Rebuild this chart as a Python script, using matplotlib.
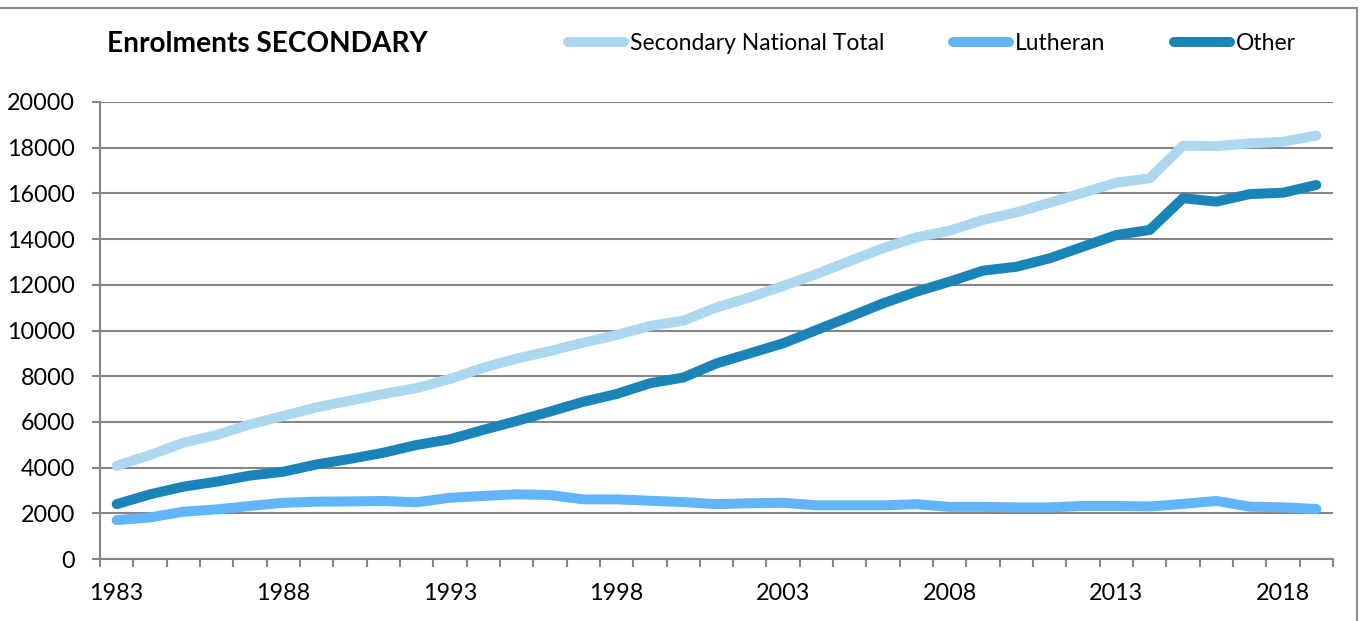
import matplotlib
matplotlib.use("Agg")
from matplotlib import pyplot as plt
from matplotlib.patches import Rectangle

years = list(range(1983, 2020))
national_total = [4080, 4550, 5090, 5430, 5890, 6260, 6640, 6930, 7220, 7480,
                  7880, 8370, 8770, 9100, 9470, 9800, 10200, 10430, 11010, 11450,
                  11950, 12470, 13040, 13600, 14080, 14370, 14840, 15170, 15590, 16030,
                  16470, 16660, 18090, 18070, 18190, 18260, 18530]
lutheran = [1700, 1820, 2070, 2170, 2320, 2460, 2510, 2520, 2540, 2480,
            2680, 2760, 2830, 2800, 2610, 2610, 2550, 2490, 2400, 2440,
            2460, 2350, 2350, 2350, 2400, 2280, 2280, 2260, 2260, 2320,
            2320, 2300, 2410, 2540, 2290, 2260, 2190]
other = [2400, 2830, 3165, 3385, 3650, 3820, 4140, 4380, 4650, 4990,
         5240, 5650, 6040, 6450, 6880, 7220, 7690, 7940, 8560, 9000,
         9440, 10020, 10600, 11190, 11700, 12140, 12620, 12790, 13160, 13670,
         14180, 14400, 15790, 15640, 15970, 16030, 16370]
series_names = ["Secondary National Total", "Lutheran", "Other"]
series_colors = ["#ABD8EE", "#62B4FB", "#1A84B8"]
y_ticks = list(range(0, 20001, 2000))

plt.rcParams["font.family"] = ["Lato", "DejaVu Sans"]

fig = plt.figure(figsize=(13.6, 6.21), dpi=100)
fig.patches.append(Rectangle((-0.01, -0.01), 1357 / 1360 + 0.01, 1 - 8 / 621 + 0.01,
                             transform=fig.transFigure, fill=False,
                             edgecolor="#8C8C8C", linewidth=1.5))
ax = fig.add_axes([100 / 1360, 1 - 559 / 621, 1233 / 1360, 457 / 621])

idx = list(range(len(years)))
lines = []
for vals, name, col in zip([national_total, lutheran, other], series_names, series_colors):
    ln, = ax.plot(idx, vals, color=col, linewidth=7.2, label=name,
                  solid_capstyle="round", solid_joinstyle="round")
    lines.append(ln)

ax.set_xlim(-0.5, len(years) - 0.5)
ax.set_ylim(0, 20000)
ax.set_yticks(y_ticks)
ax.set_yticklabels([str(v) for v in y_ticks])
ax.yaxis.grid(True, color="#868686", linewidth=1.5)
ax.set_axisbelow(True)

ax.set_xticks([i - 0.5 for i in range(len(years) + 1)])
ax.set_xticklabels([])
ax.set_xticks([i for i in idx if (years[i] - 1983) % 5 == 0], minor=True)
ax.set_xticklabels([str(years[i]) for i in idx if (years[i] - 1983) % 5 == 0], minor=True)
ax.tick_params(axis="x", which="major", length=6, width=1.5, color="#868686")
ax.tick_params(axis="x", which="minor", length=0, pad=17, labelsize=16.8)
ax.tick_params(axis="y", length=6, width=1.5, color="#868686", pad=12, labelsize=16.8)

for s in ["top", "right"]:
    ax.spines[s].set_visible(False)
for s in ["left", "bottom"]:
    ax.spines[s].set_color("#868686")
    ax.spines[s].set_linewidth(1.5)

fig.text(107 / 1360, 1 - 44 / 621, "Enrolments SECONDARY", fontsize=20.2,
         fontweight="bold", va="center", ha="left")

fig.legend(handles=lines, loc="center left", bbox_to_anchor=(568 / 1360, 1 - 44 / 621),
           ncol=3, frameon=False, fontsize=16.5, handlelength=2.45, handletextpad=0.25,
           columnspacing=3.0, borderpad=0, borderaxespad=0)

fig.savefig("out.png", dpi=100)
